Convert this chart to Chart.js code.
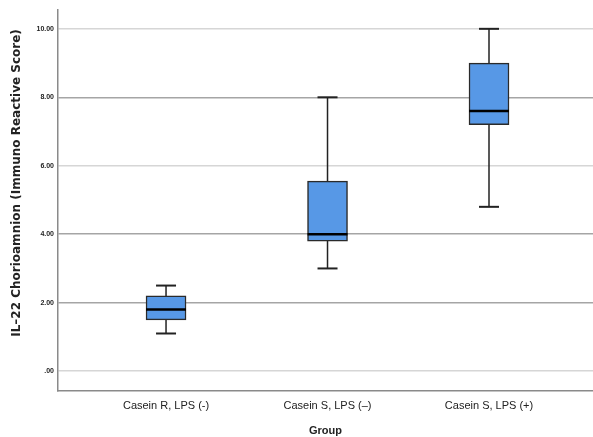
<!DOCTYPE html>
<html>
<head>
<meta charset="utf-8">
<script src="https://cdn.jsdelivr.net/npm/chart.js@4/dist/chart.umd.min.js"></script>
<style>
  body { margin: 0; background: #fff; }
  #wrap { width: 593px; height: 437px; }
</style>
</head>
<body>
<div id="wrap"><canvas id="boxChart" width="593" height="437"></canvas></div>
<script>
const groups = ['Casein R, LPS (-)', 'Casein S, LPS (\u2013)', 'Casein S, LPS (+)'];
const whiskerLow = [1.1, 3.0, 4.8];
const q1 = [1.5, 3.8, 7.2];
const medians = [1.8, 4.0, 7.6];
const q3 = [2.2, 5.55, 9.0];
const whiskerHigh = [2.5, 8.0, 10.0];
const yTicks = [0, 2, 4, 6, 8, 10];
const yTitle = 'IL\u201322 Chorioamnion (Immuno Reactive Score)';

const font = "'Liberation Sans', Arial, sans-serif";

// whiskers behind the boxes, medians on top
const boxParts = {
  id: 'boxParts',
  beforeDatasetsDraw(chart) {
    const {ctx, scales: {x, y}} = chart;
    ctx.save();
    ctx.strokeStyle = '#222';
    groups.forEach((g, i) => {
      const px = x.getPixelForValue(i + 1);
      ctx.lineWidth = 1.5;
      ctx.beginPath();
      ctx.moveTo(px, y.getPixelForValue(whiskerLow[i]));
      ctx.lineTo(px, y.getPixelForValue(whiskerHigh[i]));
      ctx.stroke();
      ctx.lineWidth = 2;
      [whiskerLow[i], whiskerHigh[i]].forEach(v => {
        const py = y.getPixelForValue(v);
        ctx.beginPath();
        ctx.moveTo(px - 10, py);
        ctx.lineTo(px + 10, py);
        ctx.stroke();
      });
    });
    ctx.restore();
  },
  afterDatasetsDraw(chart) {
    const {ctx, scales: {x, y}} = chart;
    ctx.save();
    ctx.strokeStyle = '#000';
    ctx.lineWidth = 2.5;
    groups.forEach((g, i) => {
      const px = x.getPixelForValue(i + 1);
      const py = y.getPixelForValue(medians[i]);
      ctx.beginPath();
      ctx.moveTo(px - 20, py);
      ctx.lineTo(px + 20, py);
      ctx.stroke();
    });
    ctx.restore();
  },
  // y title sits a little above the middle of the axis, as in SPSS
  afterDraw(chart) {
    const {ctx} = chart;
    ctx.save();
    ctx.translate(17, 183);
    ctx.rotate(-Math.PI / 2);
    ctx.font = "bold 12px 'DejaVu Sans', sans-serif";
    ctx.fillStyle = '#222';
    ctx.textAlign = 'center';
    ctx.textBaseline = 'middle';
    ctx.fillText(yTitle, 0, 0);
    ctx.restore();
  }
};

new Chart(document.getElementById('boxChart'), {
  type: 'bar',
  data: {
    datasets: [{
      data: groups.map((g, i) => ({x: i + 1, y: [q1[i], q3[i]]})),
      backgroundColor: '#5798e6',
      borderColor: '#2a2a2a',
      borderWidth: 1.5,
      borderSkipped: false,
      barThickness: 40
    }]
  },
  options: {
    responsive: false,
    animation: false,
    layout: { padding: { top: 10, right: 0, left: 0, bottom: 0 } },
    plugins: { legend: { display: false }, tooltip: { enabled: false } },
    scales: {
      x: {
        type: 'linear',
        offset: false,
        min: 0.331,
        max: 3.644,
        afterFit: s => { s.height = 46; },
        afterBuildTicks: s => { s.ticks = groups.map((g, i) => ({value: i + 1})); },
        grid: { display: false, drawTicks: false },
        border: { display: true, color: '#8a8a8a', width: 1.5 },
        ticks: {
          padding: 8,
          color: '#222',
          font: { family: font, size: 11 },
          callback: v => groups[v - 1]
        },
        title: {
          display: true,
          text: 'Group',
          color: '#222',
          font: { family: font, size: 11, weight: 'bold' },
          padding: { top: 0, bottom: -1 }
        }
      },
      y: {
        min: -0.58,
        max: 10.55,
        afterFit: s => { s.width = 58; },
        afterBuildTicks: s => { s.ticks = yTicks.map(v => ({value: v})); },
        grid: {
          drawTicks: false,
          lineWidth: 1.5,
          color: c => [2, 4, 8].includes(c.tick && c.tick.value) ? '#a5a5a5' : '#d6d6d6'
        },
        border: { display: true, color: '#8a8a8a', width: 1.5 },
        ticks: {
          padding: 4,
          color: '#222',
          font: { family: font, size: 7, weight: 'bold' },
          callback: v => v === 0 ? '.00' : v.toFixed(2)
        }
      }
    }
  },
  plugins: [boxParts]
});
</script>
</body>
</html>
